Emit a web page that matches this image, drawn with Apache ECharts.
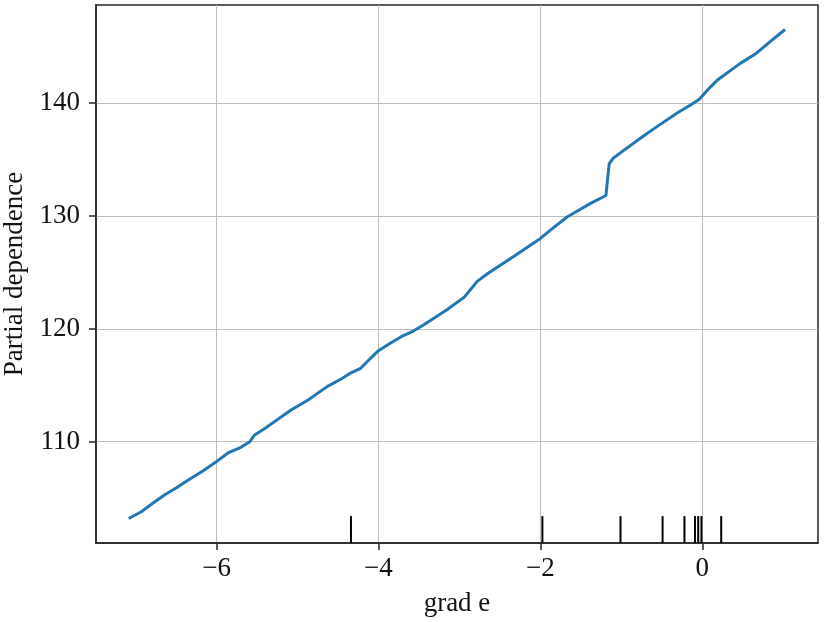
<!DOCTYPE html>
<html>
<head>
<meta charset="utf-8">
<script src="https://cdn.jsdelivr.net/npm/echarts@6/dist/echarts.min.js"></script>
<style>
html,body{margin:0;padding:0;background:#fff;}
#chart{width:832px;height:622px;}
</style>
</head>
<body>
<div id="chart"></div>
<script>
// ---- data ----
const gradE = [-7.086,-6.93,-6.78,-6.64,-6.50,-6.35,-6.17,-5.99,-5.86,-5.70,-5.59,-5.53,-5.40,-5.28,-5.08,-4.87,-4.63,-4.45,-4.34,-4.22,-4.11,-4.01,-3.86,-3.72,-3.57,-3.43,-3.15,-2.94,-2.86,-2.78,-2.65,-2.33,-2.00,-1.83,-1.67,-1.50,-1.38,-1.19,-1.15,-1.10,-0.97,-0.76,-0.56,-0.31,-0.15,-0.04,0.10,0.20,0.47,0.67,0.85,1.023];
const partialDep = [103.2,103.8,104.6,105.3,105.9,106.6,107.4,108.3,109.0,109.5,110.0,110.6,111.2,111.8,112.8,113.7,114.9,115.6,116.1,116.5,117.3,118.0,118.7,119.3,119.8,120.4,121.7,122.8,123.5,124.2,124.9,126.4,128.0,129.0,129.9,130.6,131.1,131.8,134.6,135.1,135.8,136.9,137.9,139.1,139.8,140.3,141.4,142.1,143.5,144.4,145.5,146.5];
const deciles = [-4.34,-1.975,-1.01,-0.49,-0.22,-0.09,-0.05,-0.01,0.234];
const xTicks = [-6,-4,-2,0];
const yTicks = [110,120,130,140];
const xMin = -7.49, xMax = 1.43;
const yMin = 101.03, yMax = 148.67;

const font = 'Liberation Serif, Times New Roman, serif';
const chart = echarts.init(document.getElementById('chart'), null, {renderer:'canvas'});
const lineData = gradE.map((x,i)=>[x, partialDep[i]]);
const rugTop = yMin + 0.05*(yMax - yMin);

chart.setOption({
  animation:false,
  backgroundColor:'#fff',
  grid:{left:96,right:14,top:5,bottom:79,containLabel:false,outerBoundsMode:'none',
    show:true,borderColor:'#262626',borderWidth:1.5,backgroundColor:'transparent'},
  xAxis:{
    type:'value', min:xMin, max:xMax,
    name:'grad e', nameLocation:'middle', nameGap:47,
    nameTextStyle:{fontFamily:font,fontSize:27,color:'#111'},
    axisLine:{show:true,onZero:false,lineStyle:{color:'#262626',width:1.5}},
    axisTick:{show:true,inside:false,length:7,customValues:xTicks,lineStyle:{color:'#262626',width:1.5}},
    axisLabel:{customValues:xTicks,margin:12,fontFamily:font,fontSize:27,color:'#111',
      formatter:v=>String(v).replace('-','\u2212')},
    splitLine:{show:true,lineStyle:{color:'#bdbdbd',width:1}}
  },
  yAxis:{
    type:'value', min:yMin, max:yMax,
    name:'Partial dependence', nameLocation:'middle', nameGap:63,
    nameTextStyle:{fontFamily:font,fontSize:27,color:'#111'},
    axisLine:{show:true,onZero:false,lineStyle:{color:'#262626',width:1.5}},
    axisTick:{show:true,inside:false,length:7,customValues:yTicks,lineStyle:{color:'#262626',width:1.5}},
    axisLabel:{customValues:yTicks,margin:16,fontFamily:font,fontSize:27,color:'#111'},
    splitLine:{show:true,lineStyle:{color:'#bdbdbd',width:1}}
  },
  series:[
    {
      type:'line', data:lineData, showSymbol:false, symbol:'none',
      lineStyle:{color:'#1f77b4',width:3}, z:3
    },
    {
      type:'custom', data:deciles.map(d=>[d]), z:4,
      renderItem:function(params, api){
        const x = api.value(0);
        const p0 = api.coord([x, yMin]);
        const p1 = api.coord([x, rugTop]);
        return {type:'line', shape:{x1:p0[0],y1:p0[1],x2:p1[0],y2:p1[1]},
          style:{stroke:'#000',lineWidth:2}};
      },
      encode:{x:0}
    }
  ]
});
</script>
</body>
</html>
